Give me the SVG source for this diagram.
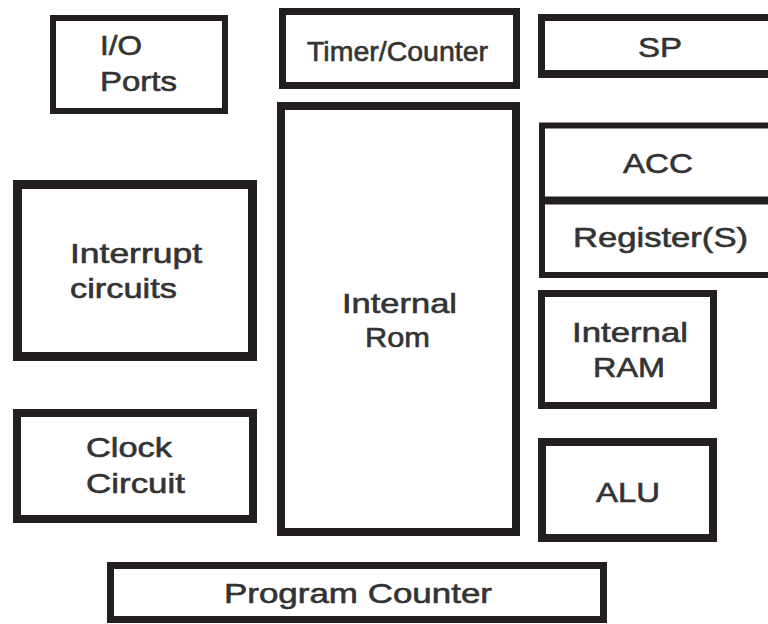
<svg xmlns="http://www.w3.org/2000/svg" width="768" height="624" viewBox="0 0 768 624">
<style>
.b{fill:#fff;stroke:#231f20;stroke-linejoin:miter}
.t{font-family:"Liberation Sans",Arial,sans-serif;font-size:28px;fill:#333;stroke:#333;stroke-width:0.6px}
</style>
<rect width="768" height="624" fill="#fff"/>
<g id="io"><rect class="b" x="53" y="18" width="172" height="93" stroke-width="6"/><text class="t" x="100" y="55" textLength="42" lengthAdjust="spacingAndGlyphs">I/O</text><text class="t" x="100" y="91" textLength="77" lengthAdjust="spacingAndGlyphs">Ports</text></g>
<g id="timer"><rect class="b" x="282.5" y="11.5" width="234" height="74" stroke-width="7"/><text class="t" x="307" y="61" textLength="181" lengthAdjust="spacingAndGlyphs">Timer/Counter</text></g>
<g id="sp"><rect class="b" x="541.5" y="17.5" width="260" height="56" stroke-width="7"/><line x1="538" y1="75" x2="768" y2="75" stroke="#231f20" stroke-width="6"/><text class="t" x="638" y="57" textLength="44" lengthAdjust="spacingAndGlyphs">SP</text></g>
<g id="acc"><rect class="b" x="542" y="125.5" width="260" height="75" stroke-width="6"/><text class="t" x="623" y="173" textLength="70" lengthAdjust="spacingAndGlyphs">ACC</text></g>
<g id="reg"><rect class="b" x="542" y="200.5" width="260" height="74.5" stroke-width="6"/><line x1="539" y1="200.5" x2="768" y2="200.5" stroke="#231f20" stroke-width="8"/><text class="t" x="573" y="247" textLength="175" lengthAdjust="spacingAndGlyphs">Register(S)</text></g>
<g id="rom"><rect class="b" x="281" y="106" width="235" height="426" stroke-width="8"/><text class="t" x="342" y="313" textLength="115" lengthAdjust="spacingAndGlyphs">Internal</text><text class="t" x="365" y="347" textLength="65" lengthAdjust="spacingAndGlyphs">Rom</text></g>
<g id="interrupt"><rect class="b" x="17.5" y="184.5" width="235" height="172" stroke-width="9"/><text class="t" x="70" y="263" textLength="132" lengthAdjust="spacingAndGlyphs">Interrupt</text><text class="t" x="70" y="298" textLength="107" lengthAdjust="spacingAndGlyphs">circuits</text></g>
<g id="clock"><rect class="b" x="17" y="413" width="236" height="106" stroke-width="8"/><text class="t" x="86" y="457" textLength="86" lengthAdjust="spacingAndGlyphs">Clock</text><text class="t" x="86" y="493" textLength="99" lengthAdjust="spacingAndGlyphs">Circuit</text></g>
<g id="ram"><rect class="b" x="541.5" y="293.5" width="172" height="112" stroke-width="7"/><text class="t" x="572" y="342" textLength="116" lengthAdjust="spacingAndGlyphs">Internal</text><text class="t" x="593" y="377" textLength="72" lengthAdjust="spacingAndGlyphs">RAM</text></g>
<g id="alu"><rect class="b" x="542" y="442" width="171" height="96" stroke-width="8"/><text class="t" x="596" y="502" textLength="64" lengthAdjust="spacingAndGlyphs">ALU</text></g>
<g id="pc"><rect class="b" x="110.5" y="565.5" width="493" height="54" stroke-width="7"/><text class="t" x="224" y="603" textLength="268" lengthAdjust="spacingAndGlyphs">Program Counter</text></g>
<g id="connectors"></g>
</svg>
